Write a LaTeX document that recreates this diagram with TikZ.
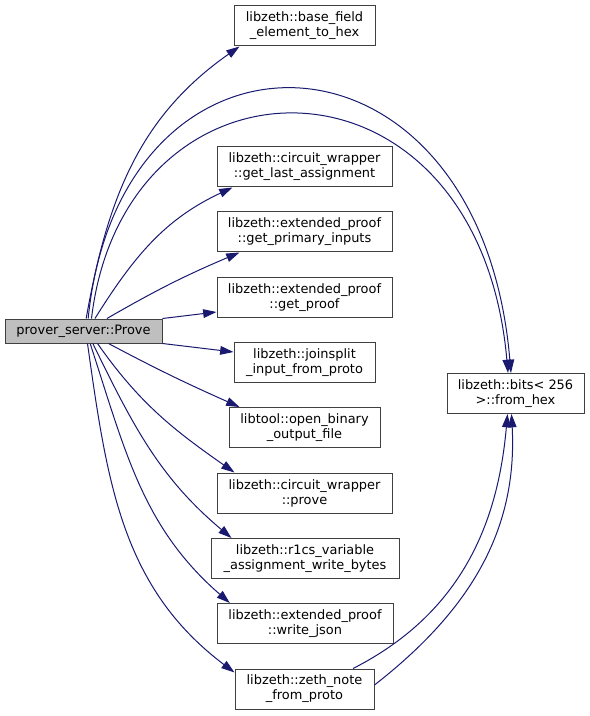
\documentclass[tikz,border=0pt]{standalone}
\usepackage{fontspec}
\setmainfont{DejaVu Sans}
\usepackage{xcolor}
\usetikzlibrary{arrows.meta}

\definecolor{edgeBlue}{HTML}{191970}
\definecolor{boxGray}{HTML}{404040}
\definecolor{rootFill}{HTML}{BFBFBF}

\begin{document}
\begin{tikzpicture}[x=0.75pt,y=0.75pt,
    fnbox/.style={draw=boxGray,line width=0.75pt,inner sep=0pt,
      minimum width=#1*0.75pt,minimum height=30pt,align=center,
      font=\fontsize{9.7}{11.25}\selectfont},
    call/.style={draw=edgeBlue,line width=0.75pt,
      -{Triangle[length=10pt,width=6.5pt]}}]

    \useasboundingbox (0,0) rectangle (589,-716);

    % Aufrufer
    \node[fnbox=157,fill=rootFill,minimum height=18pt] (prove) at (83.5,-331) {prover\_server::Prove};

    % Aufgerufene Funktionen
    \node[fnbox=141] (baseHex) at (304.5,-26) {libzeth::base\_field\\\_element\_to\_hex};
    \node[fnbox=175] (lastAssign) at (304.5,-167) {libzeth::circuit\_wrapper\\::get\_last\_assignment};
    \node[fnbox=175] (primInputs) at (304.5,-232) {libzeth::extended\_proof\\::get\_primary\_inputs};
    \node[fnbox=175] (getProof) at (304.5,-297.5) {libzeth::extended\_proof\\::get\_proof};
    \node[fnbox=141] (joinsplitIn) at (304.5,-362.5) {libzeth::joinsplit\\\_input\_from\_proto};
    \node[fnbox=151] (openBinary) at (304.5,-427.5) {libtool::open\_binary\\\_output\_file};
    \node[fnbox=175] (circuitProve) at (304.5,-493) {libzeth::circuit\_wrapper\\::prove};
    \node[fnbox=188] (rOneCs) at (305,-558.5) {libzeth::r1cs\_variable\\\_assignment\_write\_bytes};
    \node[fnbox=176] (writeJson) at (305,-623.5) {libzeth::extended\_proof\\::write\_json};
    \node[fnbox=139] (zethNote) at (304.5,-689) {libzeth::zeth\_note\\\_from\_proto};

    % Zweite Ebene
    \node[fnbox=137] (fromHex) at (515.5,-393.5) {libzeth::bits< 256\\>::from\_hex};

    % Aufrufe nach oben
    \draw[call] ([xshift=2pt]prove.north) to[out=80,in=215] ([xshift=4.5pt]baseHex.south west);
    \draw[call] ([xshift=3.5pt]prove.north) .. controls +(32,319) and +(-31,364) .. ([xshift=-3.4pt]fromHex.north);
    \draw[call] ([xshift=6pt]prove.north) .. controls +(33,279) and +(-30,337) .. ([xshift=-5.6pt]fromHex.north);
    \draw[call] ([xshift=8.6pt]prove.north) to[out=58,in=205] ([xshift=12pt]lastAssign.south west);
    \draw[call] ([xshift=17.6pt]prove.north) to[out=30,in=203] ([xshift=17.25pt]primInputs.south west);
    \draw[call] (prove.north east) -- ([yshift=4.5pt]getProof.south west);

    % Aufrufe nach unten
    \draw[call] (prove.south east) -- ([yshift=-7.5pt]joinsplitIn.north west);
    \draw[call] ([xshift=18.75pt]prove.south) to[out=-28,in=156] ([xshift=8.25pt]openBinary.north west);
    \draw[call] ([xshift=10.5pt]prove.south) to[out=-55,in=145] ([xshift=13.5pt]circuitProve.north west);
    \draw[call] ([xshift=7pt]prove.south) to[out=-64,in=140] ([xshift=15.75pt]rOneCs.north west);
    \draw[call] ([xshift=5pt]prove.south) to[out=-72,in=139] ([xshift=10pt]writeJson.north west);
    \draw[call] ([xshift=3pt]prove.south) to[out=-82,in=143] ([yshift=-3pt]zethNote.north west);

    % zeth_note nach from_hex
    \draw[call] ([xshift=36.4pt]zethNote.north) to[out=27,in=-95] ([xshift=-6pt]fromHex.south);
    \draw[call] ([yshift=3pt]zethNote.east) to[out=38,in=-87] ([xshift=-3pt]fromHex.south);
\end{tikzpicture}
\end{document}
